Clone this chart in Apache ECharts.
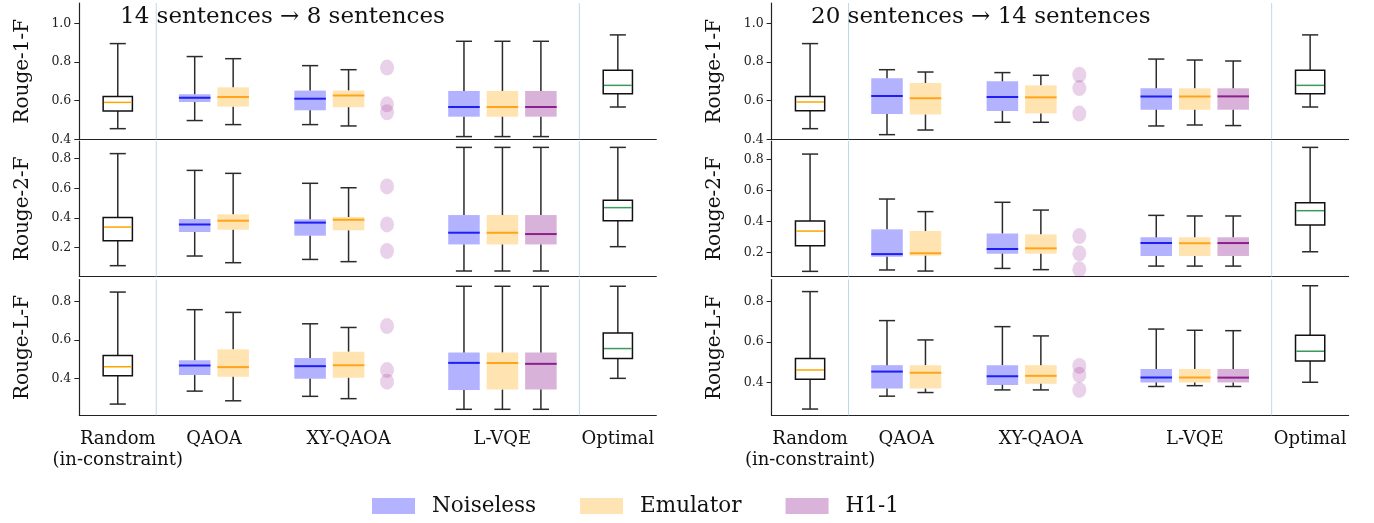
<!DOCTYPE html>
<html><head><meta charset="utf-8">
<script src="https://cdn.jsdelivr.net/npm/echarts@6/dist/echarts.min.js"></script>
<style>html,body{margin:0;padding:0;background:#fff}#c{width:1374px;height:523px}</style>
</head><body><div id="c"></div>
<script>
// ---------------- data ----------------
const categories = ['Random\n(in-constraint)', 'QAOA', 'XY-QAOA', 'L-VQE', 'Optimal'];
const categorySlots = [0, 2.5, 6, 10, 13];
const panelTitles = ['14 sentences \u2192 8 sentences', '20 sentences \u2192 14 sentences'];
const metricNames = ['Rouge-1-F', 'Rouge-2-F', 'Rouge-L-F'];
const seriesNames = ['Noiseless', 'Emulator', 'H1-1'];
const yTicksRow1 = [0.4, 0.6, 0.8, 1.0];
const yTicksRow2 = [0.2, 0.4, 0.6, 0.8];
const yTicksRow3 = [0.4, 0.6, 0.8];

// slots on the x axis (category positions)
const randomSlot = 0, optimalSlot = 13;
const noiselessSlots = [2, 5, 9];   // QAOA, XY-QAOA, L-VQE
const emulatorSlots = [3, 6, 10];
const h1BoxSlots = [11];            // L-VQE
const h1PointSlot = 7;              // XY-QAOA (points)

// box stats: [min, q1, median, q3, max]
// ---- 14 -> 8, Rouge-1-F
const L1_random = [0.455, 0.547, 0.591, 0.622, 0.895];
const L1_optimal = [0.567, 0.636, 0.679, 0.757, 0.940];
const L1_noiseless = [[0.497, 0.593, 0.615, 0.633, 0.828], [0.476, 0.550, 0.610, 0.652, 0.781], [0.414, 0.517, 0.567, 0.650, 0.907]];
const L1_emulator = [[0.476, 0.569, 0.619, 0.669, 0.817], [0.469, 0.566, 0.626, 0.653, 0.760], [0.414, 0.517, 0.567, 0.650, 0.907]];
const L1_h1box = [[0.414, 0.517, 0.567, 0.650, 0.907]];
const L1_h1pts = [0.771, 0.581, 0.540];
// ---- 14 -> 8, Rouge-2-F
const L2_random = [0.079, 0.247, 0.339, 0.404, 0.834];
const L2_optimal = [0.207, 0.382, 0.470, 0.519, 0.876];
const L2_noiseless = [[0.144, 0.306, 0.357, 0.393, 0.721], [0.121, 0.281, 0.369, 0.391, 0.634], [0.043, 0.222, 0.301, 0.420, 0.876]];
const L2_emulator = [[0.099, 0.321, 0.382, 0.425, 0.701], [0.106, 0.317, 0.389, 0.407, 0.604], [0.043, 0.222, 0.301, 0.420, 0.876]];
const L2_h1box = [[0.043, 0.222, 0.292, 0.420, 0.876]];
const L2_h1pts = [0.613, 0.357, 0.178];
// ---- 14 -> 8, Rouge-L-F
const L3_random = [0.269, 0.416, 0.462, 0.520, 0.848];
const L3_optimal = [0.402, 0.505, 0.556, 0.636, 0.878];
const L3_noiseless = [[0.336, 0.419, 0.468, 0.496, 0.757], [0.309, 0.400, 0.465, 0.507, 0.684], [0.242, 0.342, 0.482, 0.536, 0.878]];
const L3_emulator = [[0.286, 0.410, 0.460, 0.552, 0.743], [0.297, 0.405, 0.470, 0.540, 0.665], [0.242, 0.344, 0.482, 0.536, 0.878]];
const L3_h1box = [[0.242, 0.344, 0.477, 0.536, 0.878]];
const L3_h1pts = [0.672, 0.445, 0.385];
// ---- 20 -> 14, Rouge-1-F
const R1_random = [0.455, 0.548, 0.593, 0.622, 0.895];
const R1_optimal = [0.567, 0.636, 0.679, 0.757, 0.940];
const R1_noiseless = [[0.424, 0.531, 0.624, 0.716, 0.760], [0.488, 0.547, 0.619, 0.700, 0.745], [0.469, 0.553, 0.622, 0.664, 0.815]];
const R1_emulator = [[0.448, 0.528, 0.612, 0.691, 0.748], [0.488, 0.534, 0.617, 0.679, 0.731], [0.474, 0.553, 0.622, 0.664, 0.810]];
const R1_h1box = [[0.471, 0.553, 0.622, 0.664, 0.805]];
const R1_h1pts = [0.734, 0.665, 0.533];
// ---- 20 -> 14, Rouge-2-F
const R2_random = [0.080, 0.245, 0.339, 0.404, 0.834];
const R2_optimal = [0.206, 0.378, 0.470, 0.521, 0.877];
const R2_noiseless = [[0.089, 0.174, 0.191, 0.350, 0.545], [0.099, 0.194, 0.224, 0.324, 0.524], [0.114, 0.179, 0.262, 0.299, 0.440]];
const R2_emulator = [[0.082, 0.181, 0.196, 0.339, 0.464], [0.091, 0.194, 0.228, 0.318, 0.474], [0.114, 0.179, 0.260, 0.299, 0.436]];
const R2_h1box = [[0.114, 0.179, 0.262, 0.299, 0.436]];
const R2_h1pts = [0.307, 0.196, 0.093];
// ---- 20 -> 14, Rouge-L-F
const R3_random = [0.267, 0.415, 0.461, 0.518, 0.850];
const R3_optimal = [0.400, 0.506, 0.554, 0.633, 0.879];
const R3_noiseless = [[0.331, 0.369, 0.453, 0.485, 0.706], [0.362, 0.387, 0.430, 0.485, 0.676], [0.379, 0.399, 0.423, 0.466, 0.664]];
const R3_emulator = [[0.349, 0.369, 0.447, 0.485, 0.610], [0.362, 0.392, 0.432, 0.485, 0.630], [0.383, 0.399, 0.423, 0.466, 0.658]];
const R3_h1box = [[0.379, 0.399, 0.423, 0.466, 0.656]];
const R3_h1pts = [0.481, 0.437, 0.362];

// ---------------- layout / style ----------------
const FONT = "'DejaVu Serif', 'Liberation Serif', serif";
const colLeft = [79.3, 771.6];
const colWidth = 577;
const rowTop = [3, 141, 279.5];
const rowHeight = [136.3, 135.5, 135.8];
const yRanges = [
  [[0.4, 1.105], [0.006, 0.919], [0.211, 0.913]],
  [[0.4, 1.105], [0.047, 0.918], [0.236, 0.910]]
];
const yTicks = [yTicksRow1, yTicksRow2, yTicksRow3];

const COLORS = {
  noiseless: { fill: 'rgba(0,0,255,0.30)', med: '#1f1ff2', legend: '#b3b3ff' },
  emulator: { fill: 'rgba(255,165,0,0.30)', med: '#ffa31a', legend: '#ffe4b3' },
  h1: { fill: 'rgba(128,0,128,0.30)', med: '#8b1f8b', legend: '#d9b3d9', pt: 'rgba(128,0,128,0.22)' }
};
const WHISK = '#2b2b2b';
const CAP_W = 0.42;

const panels = [
  { col: 0, row: 0, random: L1_random, optimal: L1_optimal, noiseless: L1_noiseless, emulator: L1_emulator, h1box: L1_h1box, h1pts: L1_h1pts },
  { col: 0, row: 1, random: L2_random, optimal: L2_optimal, noiseless: L2_noiseless, emulator: L2_emulator, h1box: L2_h1box, h1pts: L2_h1pts },
  { col: 0, row: 2, random: L3_random, optimal: L3_optimal, noiseless: L3_noiseless, emulator: L3_emulator, h1box: L3_h1box, h1pts: L3_h1pts },
  { col: 1, row: 0, random: R1_random, optimal: R1_optimal, noiseless: R1_noiseless, emulator: R1_emulator, h1box: R1_h1box, h1pts: R1_h1pts },
  { col: 1, row: 1, random: R2_random, optimal: R2_optimal, noiseless: R2_noiseless, emulator: R2_emulator, h1box: R2_h1box, h1pts: R2_h1pts },
  { col: 1, row: 2, random: R3_random, optimal: R3_optimal, noiseless: R3_noiseless, emulator: R3_emulator, h1box: R3_h1box, h1pts: R3_h1pts }
];

function makeBoxRender(fill, stroke, medColor, medWidth, boxW) {
  return function (params, api) {
    const x = api.value(0);
    const pMin = api.coord([x, api.value(1)]);
    const pQ1 = api.coord([x, api.value(2)]);
    const pMed = api.coord([x, api.value(3)]);
    const pQ3 = api.coord([x, api.value(4)]);
    const pMax = api.coord([x, api.value(5)]);
    const bw = api.size([boxW, 0])[0];
    const cw = api.size([CAP_W, 0])[0];
    const cx = pMed[0];
    const wl = { stroke: WHISK, lineWidth: 1.5 };
    return {
      type: 'group',
      children: [
        { type: 'line', shape: { x1: cx, y1: pQ3[1], x2: cx, y2: pMax[1] }, style: wl },
        { type: 'line', shape: { x1: cx, y1: pQ1[1], x2: cx, y2: pMin[1] }, style: wl },
        { type: 'line', shape: { x1: cx - cw / 2, y1: pMax[1], x2: cx + cw / 2, y2: pMax[1] }, style: wl },
        { type: 'line', shape: { x1: cx - cw / 2, y1: pMin[1], x2: cx + cw / 2, y2: pMin[1] }, style: wl },
        { type: 'rect', shape: { x: cx - bw / 2, y: pQ3[1], width: bw, height: pQ1[1] - pQ3[1] },
          style: stroke ? { fill: fill, stroke: stroke, lineWidth: 1.5 } : { fill: fill, lineWidth: 0 } },
        { type: 'line', shape: { x1: cx - bw / 2 + (stroke ? 0.75 : 0), y1: pMed[1], x2: cx + bw / 2 - (stroke ? 0.75 : 0), y2: pMed[1] },
          style: { stroke: medColor, lineWidth: medWidth } }
      ]
    };
  };
}

function dividerRender(params, api) {
  const x = api.coord([api.value(0), 0.5])[0];
  const cs = params.coordSys;
  return { type: 'line', shape: { x1: x, y1: cs.y, x2: x, y2: cs.y + cs.height },
    style: { stroke: '#bcd9ea', lineWidth: 1 } };
}

const grids = [], xAxes = [], yAxes = [], series = [];
panels.forEach(function (p, i) {
  grids.push({ left: colLeft[p.col], width: colWidth, top: rowTop[p.row], height: rowHeight[p.row] });
  const isBottom = p.row === 2;
  xAxes.push({
    type: 'value', gridIndex: i, min: -1, max: 14,
    axisLine: { show: true, onZero: false, lineStyle: { color: '#222', width: 1.2 } },
    axisTick: { show: false }, splitLine: { show: false },
    axisLabel: isBottom ? {
      show: true, customValues: categorySlots, margin: 14,
      fontFamily: FONT, fontSize: 18, lineHeight: 21, color: '#111',
      formatter: function (v) { const k = categorySlots.indexOf(v); return k >= 0 ? categories[k] : ''; }
    } : { show: false }
  });
  const yr = yRanges[p.col][p.row];
  yAxes.push({
    type: 'value', gridIndex: i, min: yr[0], max: yr[1],
    name: metricNames[p.row], nameLocation: 'middle', nameGap: 47,
    nameTextStyle: { fontFamily: FONT, fontSize: 20, color: '#111' },
    axisLine: { show: true, onZero: false, lineStyle: { color: '#222', width: 1.2 } },
    axisTick: { show: true, length: 5, customValues: yTicks[p.row], lineStyle: { color: '#222', width: 1 } },
    splitLine: { show: false },
    axisLabel: { customValues: yTicks[p.row], margin: 8, fontFamily: FONT, fontSize: 12.5, color: '#222',
      formatter: function (v) { return v.toFixed(1); } }
  });
  const common = { type: 'custom', xAxisIndex: i, yAxisIndex: i, animation: false, silent: true,
    dimensions: ['x', 'min', 'q1', 'med', 'q3', 'max'], encode: { x: 0, y: [1, 2, 3, 4, 5] } };
  series.push({ type: 'custom', xAxisIndex: i, yAxisIndex: i, animation: false, silent: true, z: 1,
    renderItem: dividerRender, data: [[1], [12]], encode: { x: 0 } });
  series.push(Object.assign({}, common, { name: 'Random', z: 3,
    renderItem: makeBoxRender('#ffffff', '#111', '#ffa500', 1.5, 0.76),
    data: [[randomSlot].concat(p.random)] }));
  series.push(Object.assign({}, common, { name: 'Optimal', z: 3,
    renderItem: makeBoxRender('#ffffff', '#111', '#3d9a5f', 1.5, 0.76),
    data: [[optimalSlot].concat(p.optimal)] }));
  series.push(Object.assign({}, common, { name: seriesNames[0], z: 3, itemStyle: { color: COLORS.noiseless.legend },
    renderItem: makeBoxRender(COLORS.noiseless.fill, null, COLORS.noiseless.med, 2, 0.82),
    data: p.noiseless.map(function (b, k) { return [noiselessSlots[k]].concat(b); }) }));
  series.push(Object.assign({}, common, { name: seriesNames[1], z: 3, itemStyle: { color: COLORS.emulator.legend },
    renderItem: makeBoxRender(COLORS.emulator.fill, null, COLORS.emulator.med, 2, 0.82),
    data: p.emulator.map(function (b, k) { return [emulatorSlots[k]].concat(b); }) }));
  series.push(Object.assign({}, common, { name: seriesNames[2], z: 3, itemStyle: { color: COLORS.h1.legend },
    renderItem: makeBoxRender(COLORS.h1.fill, null, COLORS.h1.med, 2, 0.82),
    data: p.h1box.map(function (b, k) { return [h1BoxSlots[k]].concat(b); }) }));
  series.push({ type: 'scatter', name: seriesNames[2], xAxisIndex: i, yAxisIndex: i, animation: false, silent: true, z: 4,
    symbol: 'circle', symbolSize: [14, 16], itemStyle: { color: COLORS.h1.pt },
    data: p.h1pts.map(function (v) { return [h1PointSlot, v]; }) });
});

const chart = echarts.init(document.getElementById('c'), null, { renderer: 'canvas' });
chart.setOption({
  backgroundColor: '#ffffff',
  animation: false,
  title: [
    { text: panelTitles[0], left: 120, top: 6, padding: 0, textStyle: { fontFamily: FONT, fontWeight: 'normal', fontSize: 23, color: '#111' } },
    { text: panelTitles[1], left: 811, top: 6, padding: 0, textStyle: { fontFamily: FONT, fontWeight: 'normal', fontSize: 23, color: '#111' } }
  ],
  legend: {
    left: 372, top: 495, padding: 0, icon: 'rect', itemWidth: 43, itemHeight: 16, itemGap: 44, selectedMode: false,
    textStyle: { fontFamily: FONT, fontSize: 21.5, color: '#111', padding: [0, 0, 0, 12] },
    data: [
      { name: seriesNames[0], itemStyle: { color: COLORS.noiseless.legend, borderWidth: 0 } },
      { name: seriesNames[1], itemStyle: { color: COLORS.emulator.legend, borderWidth: 0 } },
      { name: seriesNames[2], itemStyle: { color: COLORS.h1.legend, borderWidth: 0 } }
    ]
  },
  grid: grids, xAxis: xAxes, yAxis: yAxes, series: series
});
</script></body></html>
